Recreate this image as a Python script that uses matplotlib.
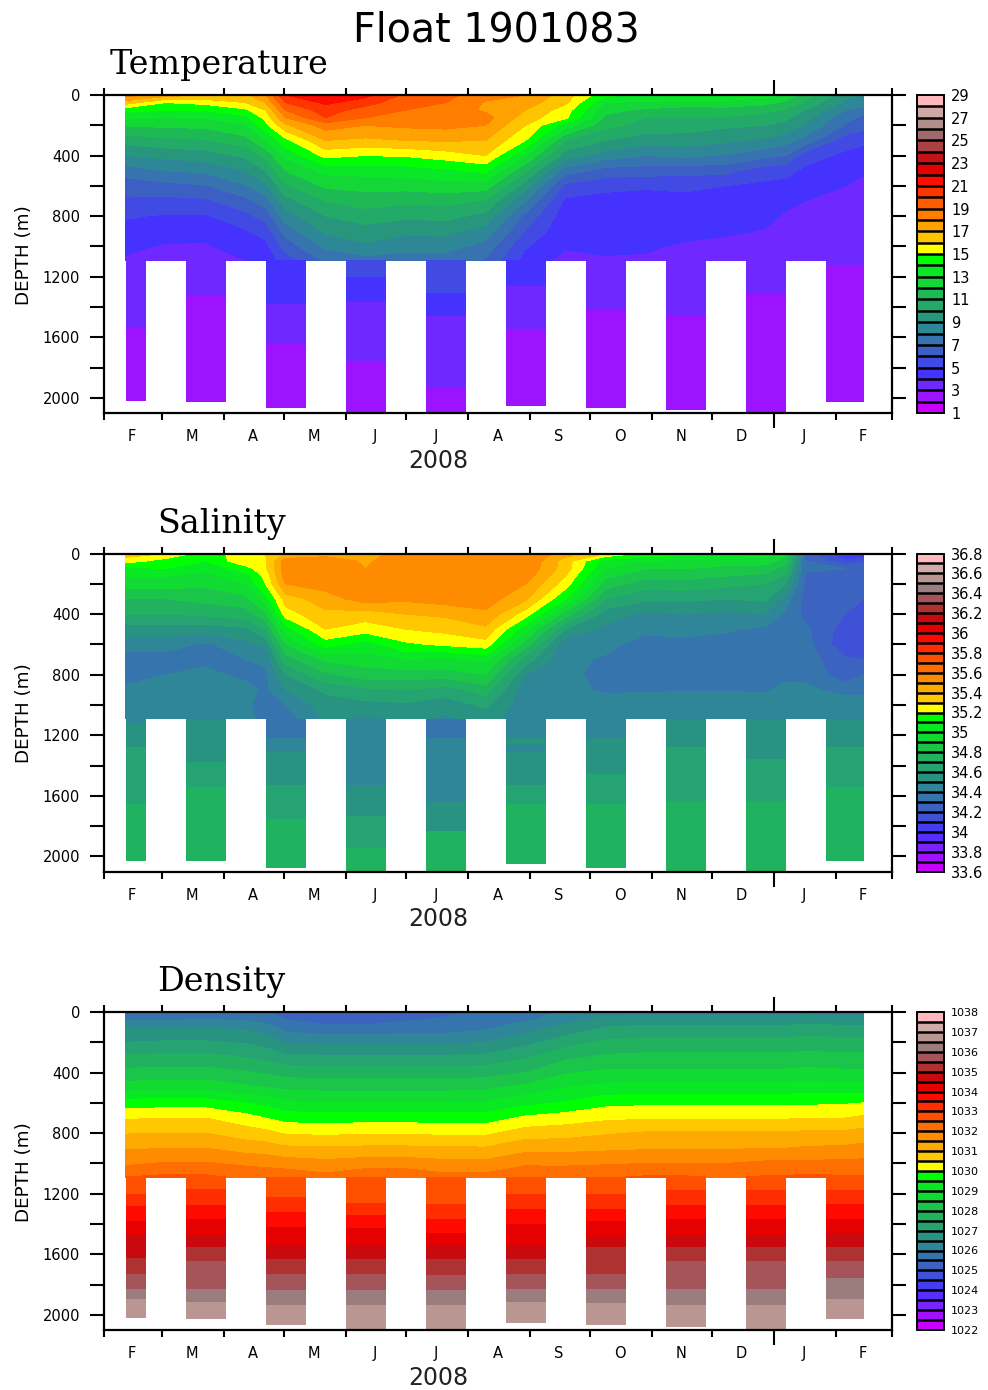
import matplotlib
matplotlib.use("Agg")
import matplotlib.pyplot as plt
import numpy as np
from matplotlib.colors import BoundaryNorm, LinearSegmentedColormap, ListedColormap

# days since 1 Feb 2008, one row of the tables below per entry
profile_days = [11, 31, 51, 71, 81, 91, 111, 131, 151, 171, 191, 211, 231, 251, 271, 291, 311, 331, 341, 351, 371, 380]
depths = [0, 50, 100, 150, 200, 300, 400, 500, 600, 700, 800, 900, 1000, 1090]

temp_upper = [
    [18.5, 16.5, 14.3, 13.2, 12.1, 10.4, 9.0, 7.5, 6.4, 5.8, 5.1, 4.6, 4.2, 3.9],
    [17.5, 15.0, 14.0, 13.0, 12.2, 10.7, 9.3, 8.0, 6.7, 5.7, 4.9, 4.4, 3.9, 3.5],
    [17.0, 15.3, 14.1, 13.1, 12.3, 10.9, 9.5, 8.2, 6.9, 5.8, 4.9, 4.3, 3.9, 3.6],
    [16.8, 16.0, 14.8, 13.7, 12.9, 11.6, 10.2, 9.0, 7.9, 6.7, 5.7, 4.9, 4.4, 4.0],
    [18.0, 17.0, 16.0, 15.3, 14.7, 12.9, 11.3, 10.0, 8.8, 7.5, 6.4, 5.4, 4.7, 4.3],
    [21.0, 20.0, 19.0, 18.0, 16.8, 14.7, 13.2, 12.0, 10.8, 9.6, 8.5, 7.4, 6.4, 5.5],
    [22.0, 21.2, 20.5, 20.0, 18.5, 17.0, 15.3, 13.3, 12.2, 11.0, 10.0, 9.2, 8.2, 7.2],
    [21.3, 20.5, 19.5, 19.0, 18.0, 16.8, 15.0, 13.4, 12.3, 11.5, 10.5, 9.6, 8.8, 7.6],
    [19.8, 19.2, 19.0, 18.9, 18.2, 17.0, 15.1, 13.5, 12.4, 11.2, 10.2, 9.2, 8.4, 7.5],
    [19.3, 19.0, 18.8, 18.6, 18.3, 17.1, 15.5, 13.8, 12.6, 11.3, 10.3, 9.3, 8.4, 7.5],
    [18.4, 17.9, 17.8, 18.4, 18.0, 17.0, 16.0, 14.2, 12.5, 10.9, 9.7, 8.6, 7.6, 6.9],
    [18.0, 17.5, 17.0, 16.5, 16.0, 15.0, 13.0, 11.1, 9.5, 8.0, 6.7, 5.9, 5.1, 4.6],
    [16.5, 16.2, 15.5, 15.2, 13.5, 11.0, 9.5, 7.5, 5.7, 4.8, 4.4, 4.2, 4.1, 3.7],
    [14.2, 13.0, 12.3, 11.8, 11.3, 10.0, 8.5, 6.6, 5.3, 4.6, 4.4, 4.3, 4.2, 3.9],
    [14.0, 12.8, 11.8, 11.0, 10.6, 9.5, 8.0, 6.5, 5.1, 4.7, 4.5, 4.3, 4.1, 3.9],
    [14.0, 12.6, 11.5, 11.0, 10.5, 9.5, 8.2, 6.4, 5.2, 4.7, 4.4, 4.2, 3.9, 3.7],
    [13.9, 12.6, 11.6, 10.9, 10.2, 9.2, 7.9, 6.3, 5.0, 4.6, 4.3, 4.1, 3.8, 3.7],
    [13.5, 12.3, 11.3, 10.5, 10.0, 8.8, 7.3, 5.4, 4.8, 4.5, 4.2, 3.95, 3.8, 3.7],
    [12.8, 11.8, 10.9, 10.2, 9.7, 8.4, 7.0, 5.3, 4.7, 4.2, 3.9, 3.75, 3.65, 3.55],
    [11.5, 10.8, 10.0, 9.4, 8.9, 7.6, 5.4, 4.8, 4.3, 4.0, 3.85, 3.75, 3.65, 3.55],
    [9.3, 8.8, 8.0, 7.3, 6.9, 5.4, 4.8, 4.4, 4.0, 3.8, 3.7, 3.6, 3.55, 3.5],
    [9.0, 8.5, 7.5, 6.8, 6.4, 5.2, 4.6, 4.1, 3.8, 3.6, 3.5, 3.45, 3.4, 3.3],
]

sal_upper = [
    [35.35, 35.25, 35.05, 35.0, 34.95, 34.8, 34.7, 34.55, 34.45, 34.35, 34.35, 34.42, 34.42, 34.45],
    [35.3, 35.15, 35.1, 35.0, 34.95, 34.8, 34.7, 34.55, 34.45, 34.35, 34.4, 34.42, 34.43, 34.45],
    [35.15, 35.1, 35.02, 34.97, 34.92, 34.83, 34.72, 34.55, 34.38, 34.38, 34.42, 34.43, 34.44, 34.46],
    [35.25, 35.28, 35.15, 35.05, 35.0, 34.87, 34.75, 34.58, 34.47, 34.4, 34.38, 34.43, 34.43, 34.45],
    [35.3, 35.28, 35.28, 35.23, 35.2, 35.05, 34.87, 34.7, 34.52, 34.42, 34.38, 34.38, 34.33, 34.35],
    [35.4, 35.55, 35.55, 35.55, 35.5, 35.35, 35.25, 35.05, 34.9, 34.75, 34.6, 34.5, 34.4, 34.35],
    [35.45, 35.57, 35.58, 35.58, 35.55, 35.45, 35.38, 35.3, 35.15, 34.92, 34.78, 34.62, 34.55, 34.52],
    [35.45, 35.48, 35.5, 35.52, 35.52, 35.55, 35.35, 35.25, 35.05, 34.95, 34.85, 34.68, 34.57, 34.48],
    [35.55, 35.58, 35.6, 35.6, 35.58, 35.52, 35.4, 35.3, 35.18, 35.0, 34.85, 34.7, 34.58, 34.52],
    [35.6, 35.6, 35.6, 35.6, 35.58, 35.55, 35.42, 35.33, 35.22, 34.98, 34.85, 34.65, 34.55, 34.48],
    [35.6, 35.6, 35.6, 35.6, 35.58, 35.55, 35.48, 35.38, 35.26, 35.02, 34.9, 34.75, 34.62, 34.55],
    [35.6, 35.6, 35.58, 35.55, 35.5, 35.42, 35.25, 35.03, 34.85, 34.65, 34.5, 34.44, 34.43, 34.42],
    [35.45, 35.35, 35.35, 35.3, 35.25, 35.1, 34.85, 34.6, 34.42, 34.42, 34.43, 34.42, 34.42, 34.42],
    [35.3, 35.05, 35.0, 34.92, 34.85, 34.7, 34.55, 34.47, 34.42, 34.39, 34.36, 34.39, 34.43, 34.45],
    [35.18, 34.98, 34.9, 34.83, 34.75, 34.62, 34.48, 34.42, 34.37, 34.36, 34.36, 34.39, 34.45, 34.47],
    [35.15, 34.97, 34.9, 34.83, 34.76, 34.62, 34.5, 34.42, 34.38, 34.36, 34.36, 34.39, 34.47, 34.5],
    [35.1, 34.95, 34.87, 34.8, 34.73, 34.6, 34.48, 34.41, 34.37, 34.35, 34.36, 34.39, 34.47, 34.5],
    [35.05, 34.95, 34.85, 34.77, 34.7, 34.62, 34.5, 34.38, 34.35, 34.33, 34.36, 34.39, 34.45, 34.5],
    [34.92, 34.85, 34.75, 34.68, 34.6, 34.45, 34.38, 34.3, 34.32, 34.35, 34.38, 34.42, 34.45, 34.5],
    [34.3, 34.3, 34.32, 34.28, 34.28, 34.25, 34.27, 34.32, 34.34, 34.35, 34.36, 34.43, 34.45, 34.5],
    [33.95, 34.12, 34.3, 34.3, 34.25, 34.22, 34.2, 34.15, 34.12, 34.22, 34.25, 34.35, 34.48, 34.5],
    [33.97, 34.18, 34.28, 34.25, 34.22, 34.2, 34.15, 34.12, 34.12, 34.2, 34.3, 34.38, 34.43, 34.5],
]

dens_upper = [
    [1025.7, 1025.9, 1026.45, 1026.75, 1027.0, 1027.6, 1028.15, 1028.75, 1029.75, 1030.45, 1030.97, 1031.45, 1031.9, 1032.5],
    [1025.7, 1025.95, 1026.45, 1026.8, 1027.05, 1027.65, 1028.2, 1028.8, 1029.75, 1030.5, 1031.0, 1031.5, 1032.05, 1032.6],
    [1025.8, 1026.0, 1026.5, 1026.8, 1027.05, 1027.65, 1028.2, 1028.8, 1029.75, 1030.5, 1031.0, 1031.5, 1032.05, 1032.6],
    [1025.7, 1025.95, 1026.35, 1026.7, 1026.95, 1027.5, 1028.05, 1028.6, 1029.5, 1030.2, 1030.75, 1031.3, 1031.9, 1032.4],
    [1025.55, 1025.8, 1026.2, 1026.5, 1026.8, 1027.35, 1027.95, 1028.5, 1029.35, 1030.0, 1030.65, 1031.25, 1031.85, 1032.35],
    [1025.3, 1025.5, 1025.8, 1026.1, 1026.45, 1027.15, 1027.8, 1028.4, 1029.1, 1029.8, 1030.45, 1031.1, 1031.75, 1032.35],
    [1025.15, 1025.3, 1025.6, 1026.0, 1026.4, 1027.1, 1027.75, 1028.35, 1029.0, 1029.75, 1030.4, 1031.08, 1031.65, 1032.15],
    [1025.15, 1025.3, 1025.6, 1026.0, 1026.4, 1027.1, 1027.75, 1028.35, 1029.0, 1029.8, 1030.45, 1031.1, 1031.75, 1032.4],
    [1025.3, 1025.45, 1025.7, 1026.05, 1026.4, 1027.1, 1027.75, 1028.35, 1029.0, 1029.8, 1030.45, 1031.1, 1031.75, 1032.4],
    [1025.4, 1025.55, 1025.75, 1026.05, 1026.4, 1027.1, 1027.75, 1028.35, 1029.0, 1029.75, 1030.4, 1031.08, 1031.65, 1032.15],
    [1025.6, 1025.7, 1025.9, 1026.15, 1026.5, 1027.15, 1027.8, 1028.4, 1029.05, 1029.75, 1030.4, 1031.05, 1031.65, 1032.15],
    [1025.7, 1025.9, 1026.25, 1026.55, 1026.85, 1027.45, 1028.0, 1028.65, 1029.35, 1030.1, 1030.75, 1031.35, 1031.9, 1032.45],
    [1026.1, 1026.3, 1026.65, 1026.95, 1027.3, 1027.9, 1028.45, 1029.0, 1029.55, 1030.25, 1030.8, 1031.35, 1031.9, 1032.4],
    [1026.3, 1026.65, 1027.0, 1027.3, 1027.6, 1028.1, 1028.6, 1029.15, 1029.85, 1030.4, 1030.95, 1031.4, 1031.95, 1032.45],
    [1026.3, 1026.7, 1027.1, 1027.4, 1027.65, 1028.15, 1028.6, 1029.2, 1029.9, 1030.45, 1031.05, 1031.45, 1032.0, 1032.55],
    [1026.3, 1026.7, 1027.1, 1027.4, 1027.65, 1028.15, 1028.6, 1029.2, 1029.9, 1030.45, 1031.05, 1031.45, 1032.0, 1032.55],
    [1026.3, 1026.7, 1027.1, 1027.4, 1027.65, 1028.15, 1028.6, 1029.2, 1029.9, 1030.45, 1031.05, 1031.45, 1032.0, 1032.45],
    [1026.3, 1026.7, 1027.1, 1027.4, 1027.65, 1028.15, 1028.6, 1029.2, 1029.9, 1030.45, 1031.05, 1031.5, 1032.1, 1032.55],
    [1026.3, 1026.7, 1027.1, 1027.4, 1027.65, 1028.15, 1028.6, 1029.2, 1029.9, 1030.45, 1031.05, 1031.5, 1032.1, 1032.55],
    [1026.35, 1026.75, 1027.15, 1027.45, 1027.7, 1028.2, 1028.65, 1029.25, 1029.9, 1030.5, 1031.1, 1031.55, 1032.1, 1032.6],
    [1026.3, 1026.7, 1027.1, 1027.4, 1027.65, 1028.15, 1028.6, 1029.2, 1029.95, 1030.5, 1031.1, 1031.6, 1032.15, 1032.55],
    [1026.3, 1026.7, 1027.1, 1027.4, 1027.65, 1028.15, 1028.6, 1029.2, 1030.0, 1030.6, 1031.2, 1031.65, 1032.15, 1032.55],
]

# deep profiles below 1090 m: [first day, last day] and where each band ends
deep_start = [11, 41, 81, 121, 161, 201, 241, 281, 321, 361]
deep_end = [21, 61, 101, 141, 181, 221, 261, 301, 341, 380]

temp_deep_vals = [
    [3.5, 2.5], [3.5, 2.5], [4.5, 3.5, 2.5], [5.5, 4.5, 3.5, 2.5], [5.5, 4.5, 3.5, 2.5],
    [4.5, 3.5, 2.5], [3.5, 2.5], [3.5, 2.5], [3.5, 2.5], [3.5, 2.5],
]
temp_deep_ends = [
    [1538, 2018], [1319, 2029], [1380, 1644, 2066], [1204, 1369, 1754, 2100], [1310, 1462, 1934, 2100],
    [1259, 1549, 2055], [1418, 2066], [1462, 2077], [1308, 2100], [1123, 2029],
]

sal_deep_vals = [
    [34.45, 34.55, 34.65, 34.75], [34.55, 34.65, 34.75], [34.35, 34.45, 34.55, 34.65, 34.75],
    [34.45, 34.55, 34.65, 34.75], [34.35, 34.45, 34.55, 34.75],
    [34.45, 34.55, 34.45, 34.55, 34.65, 34.75], [34.45, 34.55, 34.65, 34.75],
    [34.55, 34.65, 34.75], [34.55, 34.65, 34.75], [34.55, 34.65, 34.75],
]
sal_deep_ends = [
    [1122, 1279, 1654, 2029], [1376, 1543, 2029], [1217, 1305, 1532, 1751, 2077],
    [1532, 1735, 1945, 2100], [1217, 1643, 1835, 2100],
    [1217, 1264, 1312, 1532, 1654, 2053], [1217, 1459, 1654, 2077],
    [1279, 1641, 2100], [1360, 1641, 2100], [1279, 1543, 2029],
]

dens_band_vals = [1032.75, 1033.25, 1033.75, 1034.25, 1034.75, 1035.25, 1035.75, 1036.25, 1036.75]
dens_deep_ends = [
    [1200, 1281, 1380, 1479, 1622, 1732, 1826, 1897, 2018],
    [1171, 1275, 1369, 1479, 1549, 1644, 1826, 1912, 2029],
    [1222, 1321, 1418, 1538, 1633, 1732, 1837, 1934, 2066],
    [1259, 1341, 1429, 1538, 1633, 1732, 1837, 1934, 2100],
    [1270, 1365, 1462, 1538, 1633, 1738, 1837, 1934, 2100],
    [1204, 1303, 1402, 1538, 1633, 1732, 1826, 1912, 2055],
    [1200, 1299, 1380, 1490, 1549, 1732, 1826, 1923, 2066],
    [1178, 1275, 1369, 1475, 1549, 1644, 1826, 1934, 2079],
    [1178, 1275, 1369, 1475, 1549, 1644, 1826, 1934, 2100],
    [1178, 1270, 1365, 1462, 1549, 1644, 1754, 1897, 2029],
]

month_starts = [0, 29, 60, 90, 121, 151, 182, 213, 243, 274, 304, 335, 366, 394]
month_letters = ["F", "M", "A", "M", "J", "J", "A", "S", "O", "N", "D", "J", "F"]
depth_labels = [0, 400, 800, 1200, 1600, 2000]
depth_minor = [200, 600, 1000, 1400, 1800]

low_colors = ["#c800ff", "#9b14ff", "#6e28ff", "#4632ff", "#414be1", "#3c5fc3", "#3773af",
              "#2d8796", "#28967d", "#23aa69", "#1eb955", "#14d737", "#0ae628", "#00ff00"]
high_colors = ["#ffff00", "#ffc800", "#ffaa00", "#ff8c00", "#ff6e00", "#ff5000", "#ff2d00", "#ff0a00",
               "#e60000", "#c80a0f", "#af3232", "#a5555a", "#9b7d7d", "#b99691", "#d2aaaa", "#ffb9be"]


def band_colors(n_low, n_high):
    low = LinearSegmentedColormap.from_list("low", low_colors)
    high = LinearSegmentedColormap.from_list("high", high_colors)
    return [low(i / (n_low - 1)) for i in range(n_low)] + [high(i / (n_high - 1)) for i in range(n_high)]


W, H = 988, 1390
fig = plt.figure(figsize=(W / 100, H / 100), dpi=100)
plt.rcParams["font.family"] = "DejaVu Sans"


def draw_panel(top, name, name_x, name_y, upper, deep_vals, deep_ends, levels, n_low, n_high, bar_ticks, bar_size):
    ax = fig.add_axes([103.5 / W, 1 - (top + 318) / H, 788 / W, 318 / H])
    colors = band_colors(n_low, n_high)
    cmap = ListedColormap(colors)
    norm = BoundaryNorm(levels, len(colors))

    cf = ax.contourf(profile_days, depths, np.array(upper).T, levels=levels, colors=colors)
    for i in range(len(deep_start)):
        edges = [1090] + deep_ends[i]
        vals = np.array(deep_vals[i]).reshape(-1, 1)
        ax.pcolormesh([deep_start[i], deep_end[i]], edges, vals, cmap=cmap, norm=norm)

    ax.set_xlim(0, 394)
    ax.set_ylim(2100, 0)
    for spine in ax.spines.values():
        spine.set_linewidth(1.6)

    ax.set_yticks(depth_labels)
    ax.set_yticks(depth_minor, minor=True)
    ax.tick_params(axis="y", which="both", left=True, right=True, length=10, width=1.5, labelsize=10.5, pad=7)
    ax.set_xticks(month_starts)
    ax.set_xticklabels([])
    ax.tick_params(axis="x", which="major", top=True, bottom=True, length=5, width=1.5)
    new_year = ax.xaxis.get_major_ticks()[month_starts.index(335)]
    new_year.tick1line.set_markersize(11)
    new_year.tick2line.set_markersize(11)

    for i, letter in enumerate(month_letters):
        mid = (month_starts[i] + month_starts[i + 1]) / 2 - 0.4
        ax.text(mid, 2100 + 24 / 0.1515, letter, ha="center", va="center", fontsize=10.5)
    ax.text(167.5, 2100 + 48 / 0.1515, "2008", ha="center", va="center", fontsize=17, color="#222222")
    fig.text(24 / W, 1 - (top + 160) / H, "DEPTH (m)", rotation=90, ha="center", va="center", fontsize=13.2)
    fig.text(name_x / W, 1 - name_y / H, name, family="DejaVu Serif", ha="left", va="center", fontsize=24)

    cax = fig.add_axes([917 / W, 1 - (top + 318) / H, 27 / W, 318 / H])
    cb = fig.colorbar(cf, cax=cax, ticks=bar_ticks, drawedges=True)
    cb.ax.yaxis.set_major_formatter(matplotlib.ticker.FormatStrFormatter("%g"))
    cb.ax.tick_params(length=0, labelsize=bar_size, pad=5)
    cb.outline.set_linewidth(1.4)
    cb.dividers.set_linewidth(1.8)


draw_panel(95, "Temperature", 110, 65, temp_upper, temp_deep_vals, temp_deep_ends,
           np.arange(1, 30), 14, 14, np.arange(1, 30, 2), 10.5)
draw_panel(553.5, "Salinity", 157, 524, sal_upper, sal_deep_vals, sal_deep_ends,
           np.round(np.arange(33.6, 36.85, 0.1), 1), 16, 16, np.round(np.arange(33.6, 36.85, 0.2), 1), 10.5)
dens_deep_vals = [dens_band_vals for _ in dens_deep_ends]
draw_panel(1012, "Density", 157, 982, dens_upper, dens_deep_vals, dens_deep_ends,
           np.arange(1022, 1038.1, 0.5), 16, 16, np.arange(1022, 1039, 1), 8)

fig.text(496 / W, 1 - 31 / H, "Float 1901083", ha="center", va="center", fontsize=28.5)
fig.savefig("out.png", dpi=100)
